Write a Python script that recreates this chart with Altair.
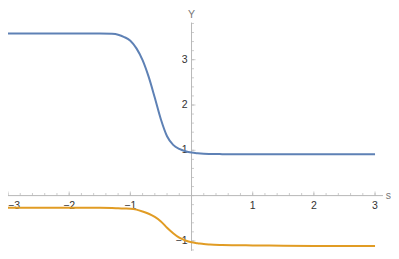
import altair as alt
import pandas as pd

# Curve data
s_vals = [-3, -2.5, -2, -1.5, -1.3, -1.2, -1.1, -1.0, -0.9, -0.8, -0.7, -0.6, -0.5,
          -0.4, -0.3, -0.2, -0.1, 0, 0.1, 0.2, 0.3, 0.5, 1, 1.5, 2, 2.5, 3]
blue_vals = [3.58, 3.58, 3.58, 3.58, 3.57, 3.55, 3.50, 3.42, 3.25, 2.99, 2.62, 2.16, 1.68,
             1.31, 1.12, 1.03, 0.98, 0.95, 0.935, 0.925, 0.92, 0.915, 0.91, 0.91, 0.91, 0.91, 0.91]
orange_vals = [-0.27, -0.27, -0.27, -0.27, -0.275, -0.28, -0.285, -0.29, -0.31, -0.35, -0.40, -0.47, -0.57,
               -0.71, -0.83, -0.93, -0.99, -1.03, -1.05, -1.07, -1.08, -1.09, -1.10, -1.105, -1.11, -1.11, -1.11]

# Axis ticks
x_major = [-2, -1, 1, 2, 3]
x_major_labels = ["\u22122", "\u22121", "1", "2", "3"]
x_first = [-3]
x_first_label = ["\u22123"]
y_major = [-1, 1, 2, 3]
y_major_labels = ["\u22121", "1", "2", "3"]
x_minor = [round(-3 + 0.2 * i, 2) for i in range(31)]
y_minor = [round(-1.2 + 0.2 * i, 2) for i in range(26)]
x_axis_range = [-3.02, 3.13]
y_axis_range = [-1.22, 3.82]
x_domain = [-3.0, 3.261]
y_domain = [-1.223, 4.141]

xs = alt.Scale(domain=x_domain, nice=False, zero=False)
ys = alt.Scale(domain=y_domain, nice=False, zero=False)
AX = "#b8b8b8"
TXT = "#333333"
FONT = "Liberation Sans"
FS = 10.5

df_b = pd.DataFrame({"s": s_vals, "v": blue_vals})
df_o = pd.DataFrame({"s": s_vals, "v": orange_vals})

blue = alt.Chart(df_b).mark_line(color="#5E81B5", strokeWidth=2, interpolate="monotone").encode(
    x=alt.X("s:Q", scale=xs, axis=None), y=alt.Y("v:Q", scale=ys, axis=None))
orange = alt.Chart(df_o).mark_line(color="#E19C24", strokeWidth=2, interpolate="monotone").encode(
    x=alt.X("s:Q", scale=xs, axis=None), y=alt.Y("v:Q", scale=ys, axis=None))

xaxis = alt.Chart(pd.DataFrame({"a": [x_axis_range[0]], "b": [x_axis_range[1]], "z": [0]})).mark_rule(
    color=AX, strokeWidth=1).encode(
    x=alt.X("a:Q", scale=xs, axis=None), x2="b:Q", y=alt.Y("z:Q", scale=ys, axis=None))
yaxis = alt.Chart(pd.DataFrame({"a": [y_axis_range[0]], "b": [y_axis_range[1]], "z": [0]})).mark_rule(
    color=AX, strokeWidth=1).encode(
    y=alt.Y("a:Q", scale=ys, axis=None), y2="b:Q", x=alt.X("z:Q", scale=xs, axis=None))

df_xmaj = pd.DataFrame({"t": x_major, "lab": x_major_labels, "z": 0})
df_xfirst = pd.DataFrame({"t": x_first, "lab": x_first_label, "z": 0})
df_ymaj = pd.DataFrame({"t": y_major, "lab": y_major_labels, "z": 0})
df_xmin = pd.DataFrame({"t": x_minor, "z": 0})
df_ymin = pd.DataFrame({"t": y_minor, "z": 0})

xmaj_t = alt.Chart(pd.concat([df_xfirst, df_xmaj])).mark_tick(orient="vertical", size=4, thickness=1, color=AX, yOffset=-2).encode(
    x=alt.X("t:Q", scale=xs, axis=None), y=alt.Y("z:Q", scale=ys, axis=None))
xmin_t = alt.Chart(df_xmin).mark_tick(orient="vertical", size=2.5, thickness=1, color=AX, yOffset=-1.25).encode(
    x=alt.X("t:Q", scale=xs, axis=None), y=alt.Y("z:Q", scale=ys, axis=None))
ymaj_t = alt.Chart(df_ymaj).mark_tick(orient="horizontal", size=4, thickness=1, color=AX, xOffset=2).encode(
    y=alt.Y("t:Q", scale=ys, axis=None), x=alt.X("z:Q", scale=xs, axis=None))
ymin_t = alt.Chart(df_ymin).mark_tick(orient="horizontal", size=2.5, thickness=1, color=AX, xOffset=1.25).encode(
    y=alt.Y("t:Q", scale=ys, axis=None), x=alt.X("z:Q", scale=xs, axis=None))

xlab = alt.Chart(df_xmaj).mark_text(font=FONT, fontSize=FS, color=TXT, baseline="top", align="center", dy=5).encode(
    x=alt.X("t:Q", scale=xs, axis=None), y=alt.Y("z:Q", scale=ys, axis=None), text="lab:N")
xlab_first = alt.Chart(df_xfirst).mark_text(font=FONT, fontSize=FS, color=TXT, baseline="top", align="left", dy=5).encode(
    x=alt.X("t:Q", scale=xs, axis=None), y=alt.Y("z:Q", scale=ys, axis=None), text="lab:N")
ylab = alt.Chart(df_ymaj).mark_text(font=FONT, fontSize=FS, color=TXT, baseline="middle", align="right", dx=-4).encode(
    y=alt.Y("t:Q", scale=ys, axis=None), x=alt.X("z:Q", scale=xs, axis=None), text="lab:N")

titles = pd.DataFrame({"x": [x_domain[1], 0], "y": [0, y_domain[1]], "lab": ["s", "Y"]})
s_title = alt.Chart(titles.iloc[[0]]).mark_text(font=FONT, fontSize=FS, color="#777777", baseline="middle", align="right").encode(
    x=alt.X("x:Q", scale=xs, axis=None), y=alt.Y("y:Q", scale=ys, axis=None), text="lab:N")
y_title = alt.Chart(titles.iloc[[1]]).mark_text(font=FONT, fontSize=FS, color="#777777", baseline="top", align="center", dy=2).encode(
    x=alt.X("x:Q", scale=xs, axis=None), y=alt.Y("y:Q", scale=ys, axis=None), text="lab:N")

chart = alt.layer(xaxis, yaxis, xmin_t, xmaj_t, ymin_t, ymaj_t, xlab, xlab_first, ylab, s_title, y_title, blue, orange).properties(
    width=383, height=243, padding=0, autosize=alt.AutoSizeParams(type="none")
).configure_view(stroke=None)

chart.save("out.html", embed_options={"renderer": "svg", "actions": False})
